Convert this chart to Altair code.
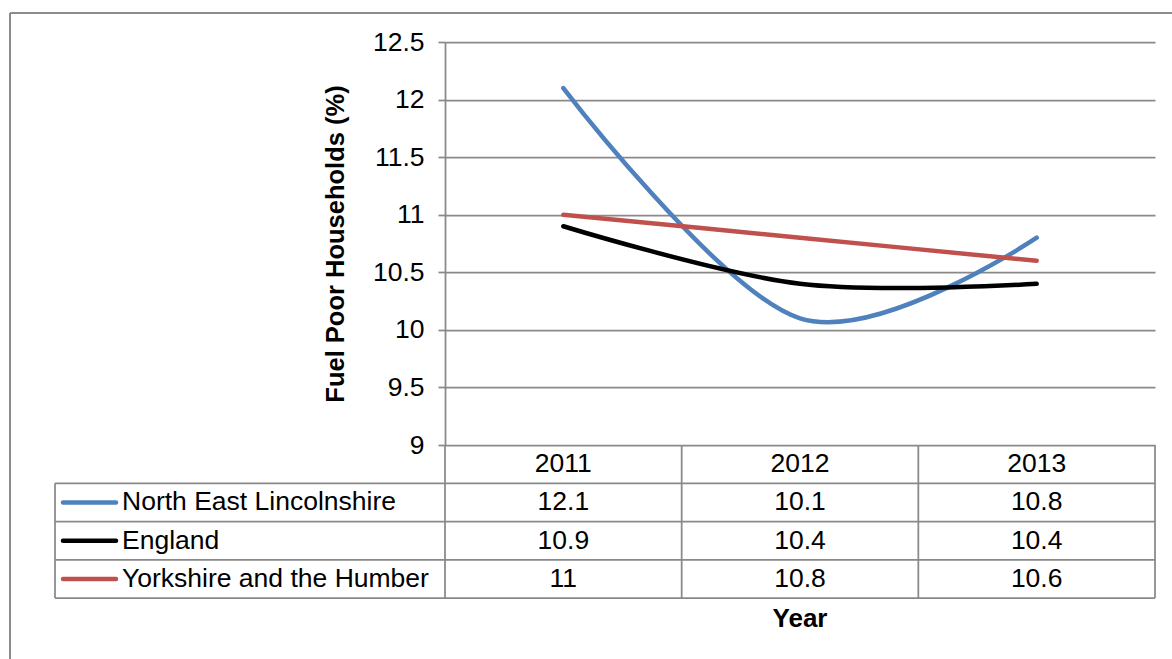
import altair as alt
import pandas as pd

# Fuel poverty share by area, 2011-2013
years = [2011, 2012, 2013]
series_names = ["North East Lincolnshire", "England", "Yorkshire and the Humber"]
ne_lincs = [12.1, 10.1, 10.8]
england = [10.9, 10.4, 10.4]
yorkshire = [11.0, 10.8, 10.6]
series_colors = ["#4F81BD", "#000000", "#C0504D"]
y_ticks = [9, 9.5, 10, 10.5, 11, 11.5, 12, 12.5]

W, H = 710, 403
ROW_H = 153  # total height of the data table under the plot
GRID = "#898989"
FONT = "Liberation Sans"
TXT = 26.5

series_values = [ne_lincs, england, yorkshire]
long_rows = []
for name, vals in zip(series_names, series_values):
    for yr, v in zip(years, vals):
        long_rows.append({"series": name, "year": yr, "value": v})
df = pd.DataFrame(long_rows)

x_scale = alt.Scale(domain=[2010.5, 2013.5], nice=False, zero=False)
y_scale = alt.Scale(domain=[9, 12.5], nice=False, zero=False)
row_scale = alt.Scale(domain=[0, 4], range=[H, H + ROW_H], nice=False, zero=False)
color_scale = alt.Scale(domain=series_names, range=series_colors)

y_axis = alt.Axis(
    values=y_ticks, format="~g", grid=True, gridColor=GRID, gridWidth=1.75,
    domainColor=GRID, domainWidth=1.75, tickColor=GRID, tickWidth=1.75, tickSize=7,
    labelFont=FONT, labelFontSize=TXT, labelColor="#000000", labelPadding=14,
    title="Fuel Poor Households (%)", titleFont=FONT, titleFontSize=25.5,
    titleFontWeight="bold", titleColor="#000000", titleAngle=270,
    titleX=-110, titleY=H / 2, titleAlign="center", titleBaseline="middle",
)

# one layer per series so later series draw on top
line_layers = []
for i, (name, color) in enumerate(zip(series_names, series_colors)):
    line_layers.append(
        alt.Chart(df[df["series"] == name])
        .mark_line(interpolate="cardinal", strokeWidth=4.5, color=color, strokeCap="round")
        .encode(
            x=alt.X("year:Q", scale=x_scale, axis=None),
            y=alt.Y("value:Q", scale=y_scale, axis=y_axis if i == 0 else None),
        )
    )

# data table under the plot
cells = pd.DataFrame(
    [{"series": s, "year": yr, "row": r + 1.5, "label": f"{v:g}"}
     for r, (s, vals) in enumerate(zip(series_names, series_values))
     for yr, v in zip(years, vals)]
)
header = pd.DataFrame({"year": years, "row": [0.5] * len(years), "label": [str(y) for y in years]})
row_labels = pd.DataFrame({"series": series_names, "row": [1.5, 2.5, 3.5]})
h_lines = pd.DataFrame({"row": [1, 2, 3, 4]})
v_lines = pd.DataFrame({"x": [2010.5, 2011.5, 2012.5, 2013.5], "top": [0] * 4, "bottom": [4] * 4})
left_border = pd.DataFrame({"top": [1], "bottom": [4]})

text_style = dict(font=FONT, fontSize=TXT, color="#000000", baseline="middle")

cell_text = alt.Chart(pd.concat([cells, header])).mark_text(align="center", **text_style).encode(
    x=alt.X("year:Q", scale=x_scale, axis=None),
    y=alt.Y("row:Q", scale=row_scale, axis=None),
    text="label:N",
)
name_text = alt.Chart(row_labels).mark_text(align="left", **text_style).encode(
    x=alt.value(-323),
    y=alt.Y("row:Q", scale=row_scale, axis=None),
    text="series:N",
)
swatches = alt.Chart(row_labels).mark_rule(strokeWidth=4.5, strokeCap="round").encode(
    x=alt.value(-382), x2=alt.value(-329),
    y=alt.Y("row:Q", scale=row_scale, axis=None),
    color=alt.Color("series:N", scale=color_scale, legend=None),
)
table_h = alt.Chart(h_lines).mark_rule(color=GRID, strokeWidth=1.75).encode(
    x=alt.value(-390), x2=alt.value(W),
    y=alt.Y("row:Q", scale=row_scale, axis=None),
)
table_v = alt.Chart(v_lines).mark_rule(color=GRID, strokeWidth=1.75).encode(
    x=alt.X("x:Q", scale=x_scale, axis=None),
    y=alt.Y("top:Q", scale=row_scale, axis=None), y2="bottom:Q",
)
table_left = alt.Chart(left_border).mark_rule(color=GRID, strokeWidth=1.75).encode(
    x=alt.value(-390),
    y=alt.Y("top:Q", scale=row_scale, axis=None), y2="bottom:Q",
)
x_title = alt.Chart(pd.DataFrame({"t": ["Year"]})).mark_text(
    font=FONT, fontSize=26, fontWeight="bold", color="#000000", align="center", baseline="middle"
).encode(x=alt.value(W / 2), y=alt.value(577), text="t:N")

# outer chart-area frame
frame_top = alt.Chart(pd.DataFrame({"k": [0]})).mark_rule(color="#8c8c8c", strokeWidth=2).encode(
    x=alt.value(-435), x2=alt.value(740), y=alt.value(-29)
)
frame_left = alt.Chart(pd.DataFrame({"k": [0]})).mark_rule(color="#8c8c8c", strokeWidth=2).encode(
    x=alt.value(-435), y=alt.value(-29), y2=alt.value(640)
)

chart = (
    alt.layer(
        frame_top, frame_left, table_h, table_v, table_left,
        *line_layers, cell_text, name_text, swatches, x_title,
    )
    .resolve_scale(y="independent")
    .properties(
        width=W, height=H,
        autosize=alt.AutoSizeParams(type="none"),
        padding={"left": 445, "top": 42, "right": 17, "bottom": 214},
        background="#ffffff",
    )
    .configure_view(stroke=None)
)

chart.save("out.html", embed_options={"renderer": "svg", "actions": False})
